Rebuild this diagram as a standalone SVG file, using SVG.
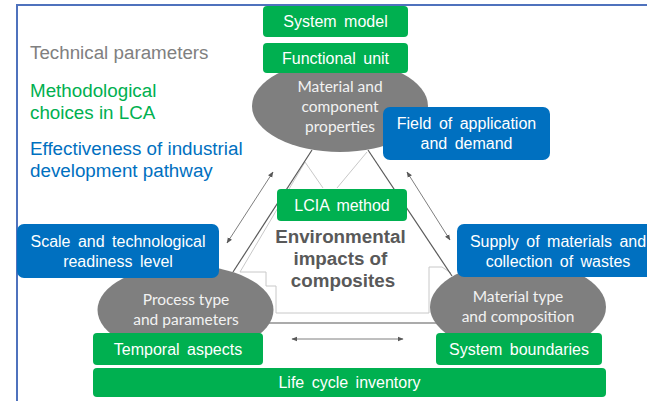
<svg xmlns="http://www.w3.org/2000/svg" width="647" height="401" viewBox="0 0 647 401">
<style>
.g{fill:#00b050}
.b{fill:#0070c0}
.e{fill:#7f7f7f}
.bt{font-family:"Liberation Sans",Arial,sans-serif;font-size:16px;fill:#ffffff;text-anchor:middle;word-spacing:3px}
.et{font-family:Lato,"Open Sans",sans-serif;font-size:15.5px;fill:#f2f2f2;text-anchor:middle}
.lg{font-family:"Liberation Sans",Arial,sans-serif;font-size:18.8px}
.dk{stroke:#595959;stroke-width:1.2;fill:none}
.lt{stroke:#c8c8c8;stroke-width:1;fill:none}
.ar{stroke:#7f7f7f;stroke-width:1;fill:none;marker-start:url(#ah);marker-end:url(#ah)}
</style>
<defs>
<marker id="ah" viewBox="0 0 10 10" refX="9" refY="5" markerWidth="6" markerHeight="6" orient="auto-start-reverse" markerUnits="userSpaceOnUse">
<path d="M0,1 L10,5 L0,9 z" fill="#595959"/>
</marker>
</defs>
<rect width="647" height="401" fill="#ffffff"/>
<g id="frame">
<path d="M17,401 L17,5 L647,5" stroke="#4f72bd" stroke-width="2" fill="none"/>
</g>
<g id="legend">
<text class="lg" x="30" y="59" fill="#808080">Technical parameters</text>
<text class="lg" x="30" y="97" fill="#00b050">Methodological</text>
<text class="lg" x="30" y="119" fill="#00b050">choices in LCA</text>
<text class="lg" x="30" y="155" fill="#0070c0">Effectiveness of industrial</text>
<text class="lg" x="30" y="177" fill="#0070c0">development pathway</text>
</g>
<g id="connectors">
<polyline class="lt" points="323,188 305,162 240,272 266,272 266,286 276,286 276,313 429,313 429,267 442,267 451,273"/>
<line class="lt" x1="337" y1="188" x2="367" y2="152"/>
<line class="dk" x1="312" y1="150" x2="233" y2="272"/>
<line class="dk" x1="368" y1="150" x2="452" y2="276"/>
<line class="dk" x1="250" y1="323" x2="450" y2="323"/>
<line class="ar" x1="227" y1="243" x2="273" y2="172"/>
<line class="ar" x1="407" y1="172" x2="450" y2="240"/>
<line class="ar" x1="292" y1="339" x2="403" y2="339"/>
</g>
<g id="material-component-properties">
<ellipse class="e" cx="340" cy="106" rx="88" ry="46"/>
<text class="et" x="340" y="92">Material and</text>
<text class="et" x="340" y="112">component</text>
<text class="et" x="340" y="132">properties</text>
</g>
<g id="system-model">
<rect class="g" x="263" y="6" width="145" height="31" rx="4"/>
<text class="bt" x="335.5" y="27">System model</text>
</g>
<g id="functional-unit">
<rect class="g" x="263" y="43" width="145" height="30" rx="4"/>
<text class="bt" x="335.5" y="64">Functional unit</text>
</g>
<g id="field-of-application">
<rect class="b" x="383" y="107" width="167" height="53" rx="7"/>
<text class="bt" x="466.5" y="129">Field of application</text>
<text class="bt" x="466.5" y="149">and demand</text>
</g>
<g id="lcia-method">
<rect class="g" x="277" y="189" width="130" height="32" rx="4"/>
<text class="bt" x="342" y="211">LCIA method</text>
</g>
<g id="environmental-impacts">
<text font-family="'Liberation Sans',Arial,sans-serif" font-size="18.8" font-weight="bold" fill="#595959" text-anchor="middle">
<tspan x="343" y="243">Environmental</tspan>
<tspan x="343" y="265">impacts of</tspan>
<tspan x="343" y="287">composites</tspan>
</text>
</g>
<g id="process-type">
<ellipse class="e" cx="185.5" cy="310" rx="88" ry="45"/>
<text class="et" x="186" y="305">Process type</text>
<text class="et" x="186" y="325">and parameters</text>
</g>
<g id="material-type">
<ellipse class="e" cx="518" cy="307" rx="88" ry="46"/>
<text class="et" x="518" y="302">Material type</text>
<text class="et" x="518" y="322">and composition</text>
</g>
<g id="scale-trl">
<rect class="b" x="17" y="224" width="202" height="54" rx="7"/>
<text class="bt" x="118" y="247">Scale and technological</text>
<text class="bt" x="118" y="267">readiness level</text>
</g>
<g id="supply-materials">
<rect class="b" x="457" y="224" width="200" height="53" rx="7"/>
<text class="bt" x="558" y="247">Supply of materials and</text>
<text class="bt" x="558" y="267">collection of wastes</text>
</g>
<g id="temporal-aspects">
<rect class="g" x="93" y="333" width="170" height="32" rx="4"/>
<text class="bt" x="178" y="355">Temporal aspects</text>
</g>
<g id="system-boundaries">
<rect class="g" x="436" y="333" width="166" height="32" rx="4"/>
<text class="bt" x="519" y="355">System boundaries</text>
</g>
<g id="life-cycle-inventory">
<rect class="g" x="93" y="368" width="513" height="29" rx="4"/>
<text class="bt" x="349.5" y="388">Life cycle inventory</text>
</g>
</svg>
